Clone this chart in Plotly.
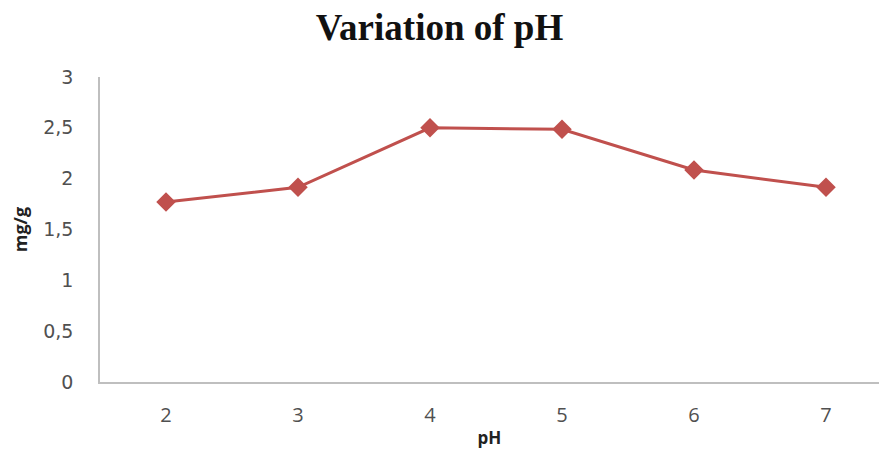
import plotly.graph_objects as go

# pH values and the corresponding uptake (mg/g)
ph = [2, 3, 4, 5, 6, 7]
uptake = [1.77, 1.915, 2.50, 2.485, 2.085, 1.915]
y_ticks = [0, 0.5, 1, 1.5, 2, 2.5, 3]

fig = go.Figure()
fig.add_trace(go.Scatter(
    x=ph, y=uptake, mode="lines+markers",
    line=dict(color="#C0504D", width=3),
    marker=dict(symbol="diamond", size=15, color="#C0504D"),
    showlegend=False,
))

fig.update_layout(
    width=879, height=453,
    margin=dict(l=100, r=0, t=77, b=71),
    paper_bgcolor="white", plot_bgcolor="white",
    separators=",.",
    title=dict(text="<b>Variation of pH</b>", x=0.5, xanchor="center",
               y=0.94, yanchor="middle",
               font=dict(family="Liberation Serif", size=37, color="#111111")),
    font=dict(family="Open Sans", color="#595959", size=20),
)
fig.update_xaxes(
    range=[1.5, 1.5 + 779 / 132], tickvals=ph, showgrid=False, zeroline=False,
    showline=True, linecolor="#BFBFBF", linewidth=1.5, ticks="",
    ticklabelstandoff=14,
    tickfont=dict(family="Open Sans", size=20, color="#505050"),
    title=dict(text="<b>pH</b>", standoff=5, font=dict(size=17, color="#222222")),
)
fig.update_yaxes(
    range=[0, 3], tickvals=y_ticks, showgrid=False, zeroline=False,
    showline=True, linecolor="#BFBFBF", linewidth=1.5, ticks="",
    ticklabelstandoff=21,
    tickfont=dict(family="DejaVu Sans", size=19, color="#505050"),
    title=dict(text="<b>mg/g</b>", standoff=11, font=dict(size=18, color="#222222")),
)

fig.write_html("out.html")
